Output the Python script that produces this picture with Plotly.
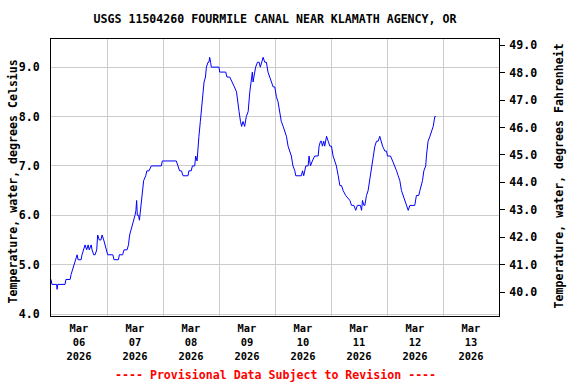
import pandas as pd
import plotly.graph_objects as go

start = "2026-03-06 00:00"
hours = [0.0, 0.4, 2.4, 2.6, 2.9, 6.0, 6.4, 8.2, 8.6, 9.3, 9.8, 10.5, 11.2, 11.6, 12.9, 13.3, 14.0, 14.6,
         15.3, 15.9, 16.4, 17.2, 17.6, 18.3, 18.9, 19.6, 20.0, 20.7, 21.4, 21.9, 22.6, 23.2, 23.7, 24.3,
         26.5, 27.0, 28.9, 29.3, 30.7, 31.3, 32.6, 33.2, 33.7, 34.3, 35.0, 35.5, 36.0, 36.4, 36.7, 37.0,
         37.5, 37.9, 38.3, 38.7, 39.1, 39.7, 40.6, 41.1, 42.0, 43.0, 47.3, 47.7, 53.7, 54.4, 55.1, 55.9,
         56.6, 58.7, 59.1, 60.1, 60.6, 61.6, 62.0, 62.6, 63.0, 63.4, 64.0, 64.6, 65.2, 65.6, 66.2, 66.6,
         67.3, 67.7, 68.0, 68.4, 68.7, 72.0, 72.3, 74.9, 75.4, 76.6, 77.7, 78.6, 79.5, 80.2, 80.6, 81.2,
         81.7, 82.3, 83.0, 83.7, 84.5, 85.2, 85.9, 86.3, 86.6, 87.0, 87.7, 88.5, 89.2, 89.7, 90.3, 90.9,
         91.6, 92.3, 93.0, 93.7, 94.5, 95.2, 95.9, 96.6, 97.3, 98.0, 98.7, 99.5, 100.2, 100.9, 101.6, 102.3,
         103.0, 103.7, 104.5, 104.9, 107.3, 107.8, 108.3, 109.2, 110.2, 110.6, 111.2, 112.0, 113.0, 114.5,
         114.9, 115.5, 115.9, 116.3, 116.9, 117.3, 118.1, 118.8, 119.5, 120.2, 120.9, 121.6, 122.3, 123.1,
         123.8, 124.5, 125.2, 126.3, 128.1, 128.8, 129.8, 130.6, 131.3, 132.6, 133.1, 133.5, 134.1, 134.5,
         135.2, 135.9, 136.6, 137.3, 138.1, 138.8, 139.5, 140.2, 140.9, 141.4, 142.1, 143.1, 143.8, 144.2,
         145.5, 146.4, 147.4, 148.1, 148.8, 149.5, 150.2, 150.9, 151.6, 152.4, 153.1, 153.8, 155.9, 156.6,
         157.6, 158.1, 158.8, 159.2, 159.8, 160.6, 160.9, 161.6, 162.4, 163.1, 163.8, 164.5, 164.9]
temp_c = [4.7, 4.6, 4.6, 4.5, 4.6, 4.6, 4.7, 4.7, 4.8, 4.9, 5.0, 5.1, 5.2, 5.1, 5.1, 5.2, 5.3, 5.4,
          5.3, 5.4, 5.3, 5.4, 5.3, 5.2, 5.2, 5.3, 5.6, 5.5, 5.5, 5.6, 5.5, 5.4, 5.3, 5.2,
          5.2, 5.1, 5.1, 5.2, 5.2, 5.3, 5.3, 5.4, 5.6, 5.7, 5.8, 5.9, 6.0, 6.1, 6.3, 6.0,
          6.0, 5.9, 6.1, 6.3, 6.5, 6.7, 6.8, 6.9, 6.9, 7.0, 7.0, 7.1, 7.1, 7.0, 6.9, 6.9,
          6.8, 6.8, 6.9, 6.9, 7.0, 7.0, 7.2, 7.1, 7.4, 7.6, 7.9, 8.3, 8.5, 8.7, 8.8, 9.0,
          9.1, 9.1, 9.2, 9.1, 9.0, 9.0, 8.9, 8.9, 8.8, 8.8, 8.7, 8.6, 8.5, 8.3, 8.1, 7.9,
          7.8, 7.9, 7.8, 8.0, 8.1, 8.5, 8.7, 8.9, 8.7, 8.8, 9.0, 9.1, 9.1, 9.0, 9.1, 9.2,
          9.1, 9.1, 8.9, 8.8, 8.7, 8.6, 8.6, 8.4, 8.3, 8.1, 7.9, 7.8, 7.7, 7.6, 7.4, 7.3,
          7.2, 7.0, 6.9, 6.8, 6.8, 6.9, 6.8, 7.0, 7.0, 7.2, 7.0, 7.1, 7.2, 7.2,
          7.4, 7.5, 7.5, 7.4, 7.5, 7.4, 7.6, 7.5, 7.4, 7.4, 7.2, 7.1, 7.0, 6.8,
          6.6, 6.6, 6.5, 6.4, 6.3, 6.2, 6.2, 6.1, 6.2, 6.2, 6.1, 6.3, 6.2, 6.2,
          6.4, 6.5, 6.7, 6.9, 7.2, 7.4, 7.5, 7.5, 7.6, 7.5, 7.4, 7.3, 7.3, 7.2,
          7.2, 7.1, 7.0, 6.9, 6.8, 6.7, 6.5, 6.4, 6.3, 6.2, 6.1, 6.2, 6.2, 6.4,
          6.4, 6.5, 6.6, 6.7, 6.9, 7.0, 7.2, 7.5, 7.6, 7.7, 7.8, 8.0, 8.0]

title_text = "USGS 11504260 FOURMILE CANAL NEAR KLAMATH AGENCY, OR"
left_title = "Temperature, water, degrees Celsius"
right_title = "Temperature, water, degrees Fahrenheit"
footer = "---- Provisional Data Subject to Revision ----"
c_range = [3.96, 9.57]
x_range = ["2026-03-06 00:00", "2026-03-14 00:00"]

times = pd.Timestamp(start) + pd.to_timedelta(hours, unit="h")
f_range = [c * 1.8 + 32 for c in c_range]

FONT = "DejaVu Sans Mono"
fnt = dict(family=FONT, size=11.6, color="black", weight="bold")
xfnt = dict(family=FONT, size=10.4, color="black", weight="bold")

fig = go.Figure()
fig.add_trace(go.Scatter(x=times, y=temp_c, mode="lines",
                         line=dict(color="#0000ff", width=1), showlegend=False,
                         hoverinfo="skip"))
# invisible trace on the Fahrenheit axis so it renders
fig.add_trace(go.Scatter(x=[times[0]], y=[temp_c[0] * 1.8 + 32], mode="lines", yaxis="y2",
                         line=dict(width=0), showlegend=False, hoverinfo="skip"))

fig.update_layout(
    width=576, height=384,
    margin=dict(l=51, r=77, t=39, b=68, autoexpand=False),
    paper_bgcolor="white", plot_bgcolor="white",
    font=fnt,
    title=dict(text=title_text, x=0.5, xref="paper", xanchor="center",
               y=1 - 19 / 384, yref="container", yanchor="middle", font=fnt,
               automargin=False),
    xaxis=dict(type="date", range=x_range, dtick=86400000, tick0="2026-03-06",
               ticklabelmode="period", tickformat="%b<br>%d<br>%Y",
               showgrid=True, gridcolor="#cccccc", gridwidth=1,
               showline=True, linecolor="black", linewidth=1, mirror=True,
               ticks="", ticklabelstandoff=3, tickfont=xfnt, zeroline=False,
               automargin=False),
    yaxis=dict(range=c_range, dtick=1, tick0=4, tickformat=".1f",
               showgrid=True, gridcolor="#cccccc", gridwidth=1,
               showline=True, linecolor="black", linewidth=1, mirror=True,
               ticks="", ticklabelstandoff=8, tickfont=fnt, zeroline=False,
               automargin=False),
    yaxis2=dict(range=f_range, dtick=1, tick0=40, tickformat=".1f", overlaying="y",
                side="right", showgrid=False, showline=True, linecolor="black",
                linewidth=1, ticks="outside", ticklen=5, tickcolor="black",
                ticklabelstandoff=2, tickfont=fnt, zeroline=False,
                automargin=False),
    annotations=[
        dict(text=left_title, xref="paper", yref="paper", x=(12 - 51) / 448,
             y=(316 - 181.5) / 277, textangle=-90, showarrow=False,
             xanchor="center", yanchor="middle", font=fnt),
        dict(text=right_title, xref="paper", yref="paper", x=(558 - 51) / 448,
             y=(316 - 176.5) / 277, textangle=-90, showarrow=False,
             xanchor="center", yanchor="middle", font=fnt),
        dict(text=footer, xref="paper", yref="paper", x=0.5,
             y=(316 - 375) / 277, showarrow=False, xanchor="center",
             yanchor="middle", font=dict(family=FONT, size=11.6, color="#ff0000", weight="bold")),
    ],
)

fig.write_html("out.html", config={"displayModeBar": False},
               post_script="document.body.style.margin='0';")
